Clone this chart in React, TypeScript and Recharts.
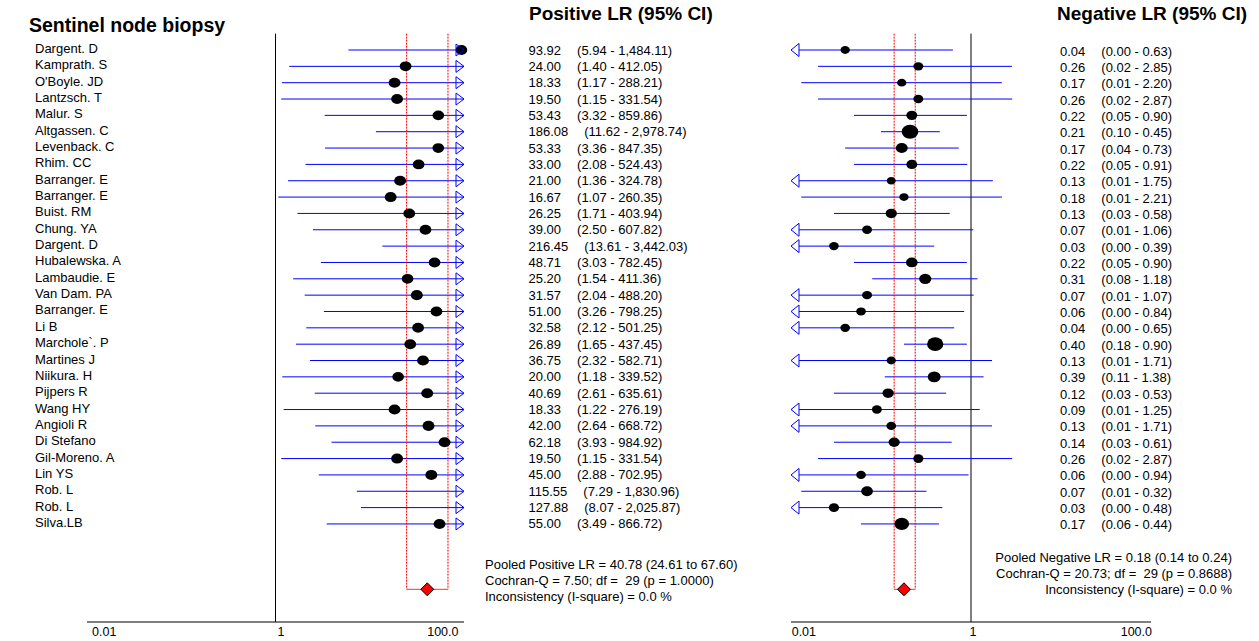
import React from 'react';
import { ComposedChart, Scatter, XAxis, YAxis, ReferenceLine, ReferenceDot } from 'recharts';

// ---------------- data ----------------
const studies = [
  'Dargent. D', 'Kamprath. S', "O'Boyle. JD", 'Lantzsch. T', 'Malur. S', 'Altgassen. C',
  'Levenback. C', 'Rhim. CC', 'Barranger. E', 'Barranger. E', 'Buist. RM', 'Chung. YA',
  'Dargent. D', 'Hubalewska. A', 'Lambaudie. E', 'Van Dam. PA', 'Barranger. E', 'Li B',
  'Marchole`. P', 'Martines J', 'Niikura. H', 'Pijpers R', 'Wang HY', 'Angioli R',
  'Di Stefano', 'Gil-Moreno. A', 'Lin YS', 'Rob. L', 'Rob. L', 'Silva.LB',
];

const posLR = [93.92, 24.0, 18.33, 19.5, 53.43, 186.08, 53.33, 33.0, 21.0, 16.67, 26.25, 39.0, 216.45, 48.71, 25.2, 31.57, 51.0, 32.58, 26.89, 36.75, 20.0, 40.69, 18.33, 42.0, 62.18, 19.5, 45.0, 115.55, 127.88, 55.0];
const posLower = [5.94, 1.4, 1.17, 1.15, 3.32, 11.62, 3.36, 2.08, 1.36, 1.07, 1.71, 2.5, 13.61, 3.03, 1.54, 2.04, 3.26, 2.12, 1.65, 2.32, 1.18, 2.61, 1.22, 2.64, 3.93, 1.15, 2.88, 7.29, 8.07, 3.49];
const posUpper = [1484.11, 412.05, 288.21, 331.54, 859.86, 2978.74, 847.35, 524.43, 324.78, 260.35, 403.94, 607.82, 3442.03, 782.45, 411.36, 488.2, 798.25, 501.25, 437.45, 582.71, 339.52, 635.61, 276.19, 668.72, 984.92, 331.54, 702.95, 1830.96, 2025.87, 866.72];
const posWeight = [3.3, 3.4, 3.5, 3.4, 3.3, 3.3, 3.3, 3.4, 3.5, 3.5, 3.4, 3.4, 3.3, 3.4, 3.3, 3.5, 3.4, 3.4, 3.4, 3.5, 3.3, 3.5, 3.5, 3.5, 3.5, 3.5, 3.5, 3.3, 3.3, 3.5];

const negLR = [0.04, 0.26, 0.17, 0.26, 0.22, 0.21, 0.17, 0.22, 0.13, 0.18, 0.13, 0.07, 0.03, 0.22, 0.31, 0.07, 0.06, 0.04, 0.4, 0.13, 0.39, 0.12, 0.09, 0.13, 0.14, 0.26, 0.06, 0.07, 0.03, 0.17];
const negLower = [0.003, 0.02, 0.013, 0.02, 0.05, 0.1, 0.04, 0.05, 0.009, 0.013, 0.03, 0.009, 0.003, 0.05, 0.08, 0.009, 0.003, 0.003, 0.18, 0.009, 0.11, 0.03, 0.009, 0.009, 0.03, 0.02, 0.003, 0.013, 0.003, 0.06];
const negUpper = [0.63, 2.85, 2.2, 2.87, 0.9, 0.45, 0.73, 0.91, 1.75, 2.21, 0.58, 1.06, 0.39, 0.9, 1.18, 1.07, 0.84, 0.65, 0.9, 1.71, 1.38, 0.53, 1.25, 1.71, 0.61, 2.87, 0.94, 0.32, 0.48, 0.44];
const negWeight = [2.32, 2.68, 2.32, 2.68, 3.24, 7.47, 3.86, 3.24, 2.17, 2.32, 3.42, 2.68, 2.52, 3.67, 4.05, 2.68, 2.52, 2.52, 7.12, 2.32, 4.53, 3.42, 2.68, 2.52, 3.42, 2.84, 2.52, 3.67, 2.84, 5.79];

const pooledPos = [40.78, 24.61, 67.6]; // estimate, lower, upper
const pooledNeg = [0.18, 0.14, 0.24];
const posStats = { q: 7.5, df: 29, p: 1.0, i2: 0.0 };
const negStats = { q: 20.73, df: 29, p: 0.8688, i2: 0.0 };

const axisTicks = [0.01, 1, 100];
const axisTickLabels = ['0.01', '1', '100.0'];

// ---------------- layout / style ----------------
const FONT = "'Liberation Sans', Arial, Helvetica, sans-serif";
const AX_MIN = 0.01;
const AX_MAX = 100;
const ROWS = studies.map((_, i) => i);
const POOLED_ROW = 33;
const Y_DOMAIN: [number, number] = [-1, 35];
const H = 641;
const TOP = 33.66;
const XAXIS_H = 19;
const BLUE = '#0000ff';

const fmt = (v: number) => v.toLocaleString('en-US', { minimumFractionDigits: 2, maximumFractionDigits: 2 });

const dotShape = (k: number) => (props: any) => {
  const { cx, cy, payload } = props;
  if (cx == null || cy == null) return <g />;
  const w = Math.sqrt(payload.w) * k;
  return <ellipse cx={cx} cy={cy} rx={w / 2} ry={w * 0.42} fill="#000" />;
};

const arrowRight = (props: any) => {
  const { cx, cy } = props;
  return <polygon points={`${cx - 8},${cy - 6} ${cx},${cy} ${cx - 8},${cy + 6}`} fill="none" stroke={BLUE} strokeWidth={1} />;
};
const arrowLeft = (props: any) => {
  const { cx, cy } = props;
  return <polygon points={`${cx + 8},${cy - 6.5} ${cx},${cy} ${cx + 8},${cy + 6.5}`} fill="#fff" stroke={BLUE} strokeWidth={1} />;
};
const diamond = (props: any) => {
  const { cx, cy } = props;
  const s = 6.5;
  return <polygon points={`${cx - s},${cy} ${cx},${cy - s} ${cx + s},${cy} ${cx},${cy + s}`} fill="#ff0000" stroke="#000" strokeWidth={1} />;
};

const makeXTick = (dxs: number[]) => (props: any) => {
  const { x, payload } = props;
  const idx = axisTicks.indexOf(payload.value);
  const anchors = ['start', 'middle', 'end'];
  return (
    <text x={x + dxs[idx]} y={636} textAnchor={anchors[idx]} fontSize={12.5} fontFamily={FONT} fill="#000">
      {axisTickLabels[idx]}
    </text>
  );
};

const PosTick = (props: any) => {
  const { y, payload } = props;
  const i = payload.value;
  if (i < 0 || i >= studies.length) return <g />;
  return (
    <g>
      <text x={35} y={y + 3} fontSize={13} fontFamily={FONT} fill="#000">{studies[i]}</text>
      <text x={528.5} y={y + 4.5} fontSize={13} fontFamily={FONT} fill="#000">
        <tspan>{fmt(posLR[i])}</tspan>
        <tspan dx={16}>{`(${fmt(posLower[i])} - ${fmt(posUpper[i])})`}</tspan>
      </text>
    </g>
  );
};

const NegTick = (props: any) => {
  const { y, payload } = props;
  const i = payload.value;
  if (i < 0 || i >= studies.length) return <g />;
  return (
    <text x={290} y={y + 5.5} fontSize={13} fontFamily={FONT} fill="#000">
      <tspan>{fmt(negLR[i])}</tspan>
      <tspan dx={16}>{`(${fmt(negLower[i])} - ${fmt(negUpper[i])})`}</tspan>
    </text>
  );
};

type PanelProps = {
  width: number;
  yAxisWidth: number;
  marginRight: number;
  est: number[];
  lower: number[];
  upper: number[];
  weight: number[];
  pooled: number[];
  dotK: number;
  tick: (p: any) => any;
  xTickDx: number[];
};

function Panel(p: PanelProps) {
  const dots = ROWS.filter((i) => p.est[i] >= AX_MIN && p.est[i] <= AX_MAX).map((i) => ({ x: p.est[i], y: i, w: p.weight[i] }));
  return (
    <ComposedChart width={p.width} height={H} margin={{ top: TOP, right: p.marginRight, bottom: 0, left: 0 }}>
      <XAxis
        dataKey="x"
        type="number"
        scale="log"
        domain={[AX_MIN, AX_MAX]}
        ticks={axisTicks}
        interval={0}
        tickLine={false}
        axisLine={{ stroke: '#000', strokeWidth: 1 }}
        tick={makeXTick(p.xTickDx)}
        height={XAXIS_H}
      />
      <YAxis
        dataKey="y"
        type="number"
        domain={Y_DOMAIN}
        reversed
        ticks={ROWS}
        interval={0}
        tickLine={false}
        axisLine={false}
        width={p.yAxisWidth}
        tick={p.tick}
      />
      <ReferenceLine x={1} stroke="#000" strokeWidth={1} ifOverflow="visible" />
      {ROWS.map((i) => (
        <ReferenceLine
          key={`ci-${i}`}
          segment={[
            { x: Math.max(p.lower[i], AX_MIN), y: i },
            { x: Math.min(p.upper[i], AX_MAX), y: i },
          ]}
          stroke={BLUE}
          strokeWidth={1}
          ifOverflow="visible"
        />
      ))}
      <Scatter data={dots} shape={dotShape(p.dotK)} isAnimationActive={false} />
      {ROWS.filter((i) => p.upper[i] > AX_MAX).map((i) => (
        <ReferenceDot key={`ar-${i}`} x={AX_MAX} y={i} r={6} shape={arrowRight} ifOverflow="visible" />
      ))}
      {ROWS.filter((i) => p.lower[i] < AX_MIN).map((i) => (
        <ReferenceDot key={`al-${i}`} x={AX_MIN} y={i} r={6} shape={arrowLeft} ifOverflow="visible" />
      ))}
      {[p.pooled[1], p.pooled[2]].map((v, k) => (
        <ReferenceLine
          key={`pv-${k}`}
          segment={[
            { x: v, y: Y_DOMAIN[0] },
            { x: v, y: POOLED_ROW },
          ]}
          stroke="#ff0000"
          strokeWidth={1}
          strokeDasharray="2 1"
          ifOverflow="visible"
        />
      ))}
      <ReferenceLine
        segment={[
          { x: p.pooled[1], y: POOLED_ROW },
          { x: p.pooled[2], y: POOLED_ROW },
        ]}
        stroke="#ff3030"
        strokeWidth={1}
        ifOverflow="visible"
      />
      <ReferenceDot x={p.pooled[0]} y={POOLED_ROW} r={6} shape={diamond} ifOverflow="visible" />
    </ComposedChart>
  );
}

export default function App() {
  const posFooter = [
    `Pooled Positive LR = ${fmt(pooledPos[0])} (${fmt(pooledPos[1])} to ${fmt(pooledPos[2])})`,
    `Cochran-Q = ${fmt(posStats.q)}; df =  ${posStats.df} (p = ${posStats.p.toFixed(4)})`,
    `Inconsistency (I-square) = ${posStats.i2.toFixed(1)} %`,
  ];
  const negFooter = [
    `Pooled Negative LR = ${fmt(pooledNeg[0])} (${fmt(pooledNeg[1])} to ${fmt(pooledNeg[2])})`,
    `Cochran-Q = ${fmt(negStats.q)}; df =  ${negStats.df} (p = ${negStats.p.toFixed(4)})`,
    `Inconsistency (I-square) = ${negStats.i2.toFixed(1)} %`,
  ];
  return (
    <div style={{ position: 'absolute', left: 0, top: 0, width: 1259, height: 641, background: '#fff', fontFamily: FONT }}>
      <div style={{ position: 'absolute', left: 0, top: 0 }}>
        <Panel
          width={770}
          yAxisWidth={87}
          marginRight={306}
          est={posLR}
          lower={posLower}
          upper={posUpper}
          weight={posWeight}
          pooled={pooledPos}
          dotK={6.4}
          tick={PosTick}
          xTickDx={[5, 5.5, -5.5]}
        />
      </div>
      <div style={{ position: 'absolute', left: 770, top: 0 }}>
        <Panel
          width={489}
          yAxisWidth={21}
          marginRight={108}
          est={negLR}
          lower={negLower}
          upper={negUpper}
          weight={negWeight}
          pooled={pooledNeg}
          dotK={6.1}
          tick={NegTick}
          xTickDx={[0.7, 2, 1]}
        />
      </div>
      <svg width={1259} height={641} style={{ position: 'absolute', left: 0, top: 0, pointerEvents: 'none' }}>
        <text x={29} y={32} fontSize={19.5} fontWeight="bold" fontFamily={FONT} fill="#000">Sentinel node biopsy</text>
        <text x={529} y={19.5} fontSize={19} fontWeight="bold" fontFamily={FONT} fill="#000">Positive LR (95% CI)</text>
        <text x={1057} y={19.5} fontSize={19} fontWeight="bold" fontFamily={FONT} fill="#000">Negative LR (95% CI)</text>
        {posFooter.map((t, k) => (
          <text key={`pf-${k}`} x={485} y={569 + k * 16} fontSize={13} fontFamily={FONT} fill="#000" style={{ whiteSpace: 'pre' }}>{t}</text>
        ))}
        {negFooter.map((t, k) => (
          <text key={`nf-${k}`} x={1232} y={562 + k * 16} fontSize={13} fontFamily={FONT} fill="#000" textAnchor="end" style={{ whiteSpace: 'pre' }}>{t}</text>
        ))}
      </svg>
    </div>
  );
}
